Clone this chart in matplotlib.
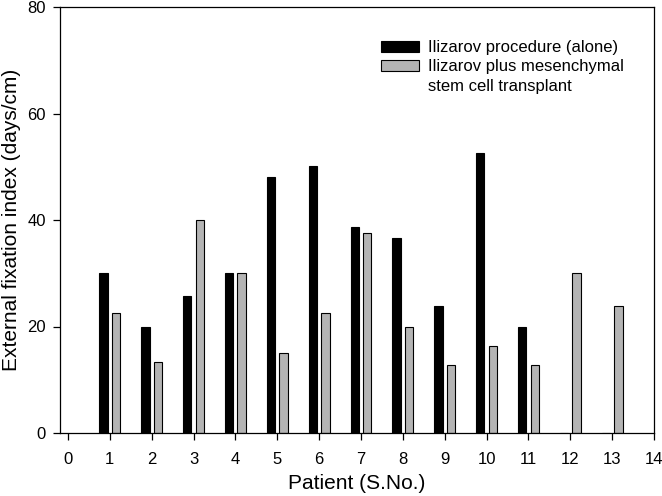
import numpy as np
import matplotlib.pyplot as plt
from matplotlib.patches import Rectangle

plt.rcParams['font.family'] = ['Liberation Sans', 'DejaVu Sans']

# --- Data ---
patients = np.arange(1, 14)
ilizarov_alone = [30.0, 20.0, 25.7, 30.0, 48.0, 50.1, 38.6, 36.6, 23.9, 52.5, 20.0, 0, 0]
ilizarov_msc = [22.5, 13.3, 40.0, 30.0, 15.0, 22.5, 37.5, 20.0, 12.8, 16.3, 12.8, 30.0, 23.9]
labels = ['Ilizarov procedure (alone)',
          'Ilizarov plus mesenchymal',
          'stem cell transplant']

# --- Plot ---
fig = plt.figure(figsize=(6.62, 4.96), dpi=100)
ax = fig.add_axes([60 / 662, 63 / 496, 594 / 662, 426 / 496])

w = 0.2
b1 = ax.bar(patients - 0.15, ilizarov_alone, w, color='black', edgecolor='black',
            linewidth=0.8)
b2 = ax.bar(patients + 0.15, ilizarov_msc, w, color='#b4b4b4', edgecolor='black',
            linewidth=0.8)

ax.set_xlim(-0.19, 14)
ax.set_ylim(0, 80)
ax.set_xticks(np.arange(0, 15))
ax.set_yticks([0, 20, 40, 60, 80])
ax.tick_params(direction='out', length=5, labelsize=12, width=0.9)
ax.tick_params(axis='x', pad=9)
ax.tick_params(axis='y', pad=5)
for s in ax.spines.values():
    s.set_linewidth(0.9)

ax.set_xlabel('Patient (S.No.)', fontsize=15, labelpad=5)
ax.set_ylabel('External fixation index (days/cm)', fontsize=15, labelpad=5)

# second line of the grey label gets an empty handle so the swatch sits on line 1
blank = Rectangle((0, 0), 1, 1, fill=False, edgecolor='none')
ax.legend([b1, b2, blank], labels, loc='upper left',
          bbox_to_anchor=(0.540, 0.922), frameon=False,
          fontsize=12, handlelength=2.3, handleheight=0.6,
          handletextpad=0.55, labelspacing=0.25, borderaxespad=0, borderpad=0)

plt.savefig('out.png', dpi=100)
